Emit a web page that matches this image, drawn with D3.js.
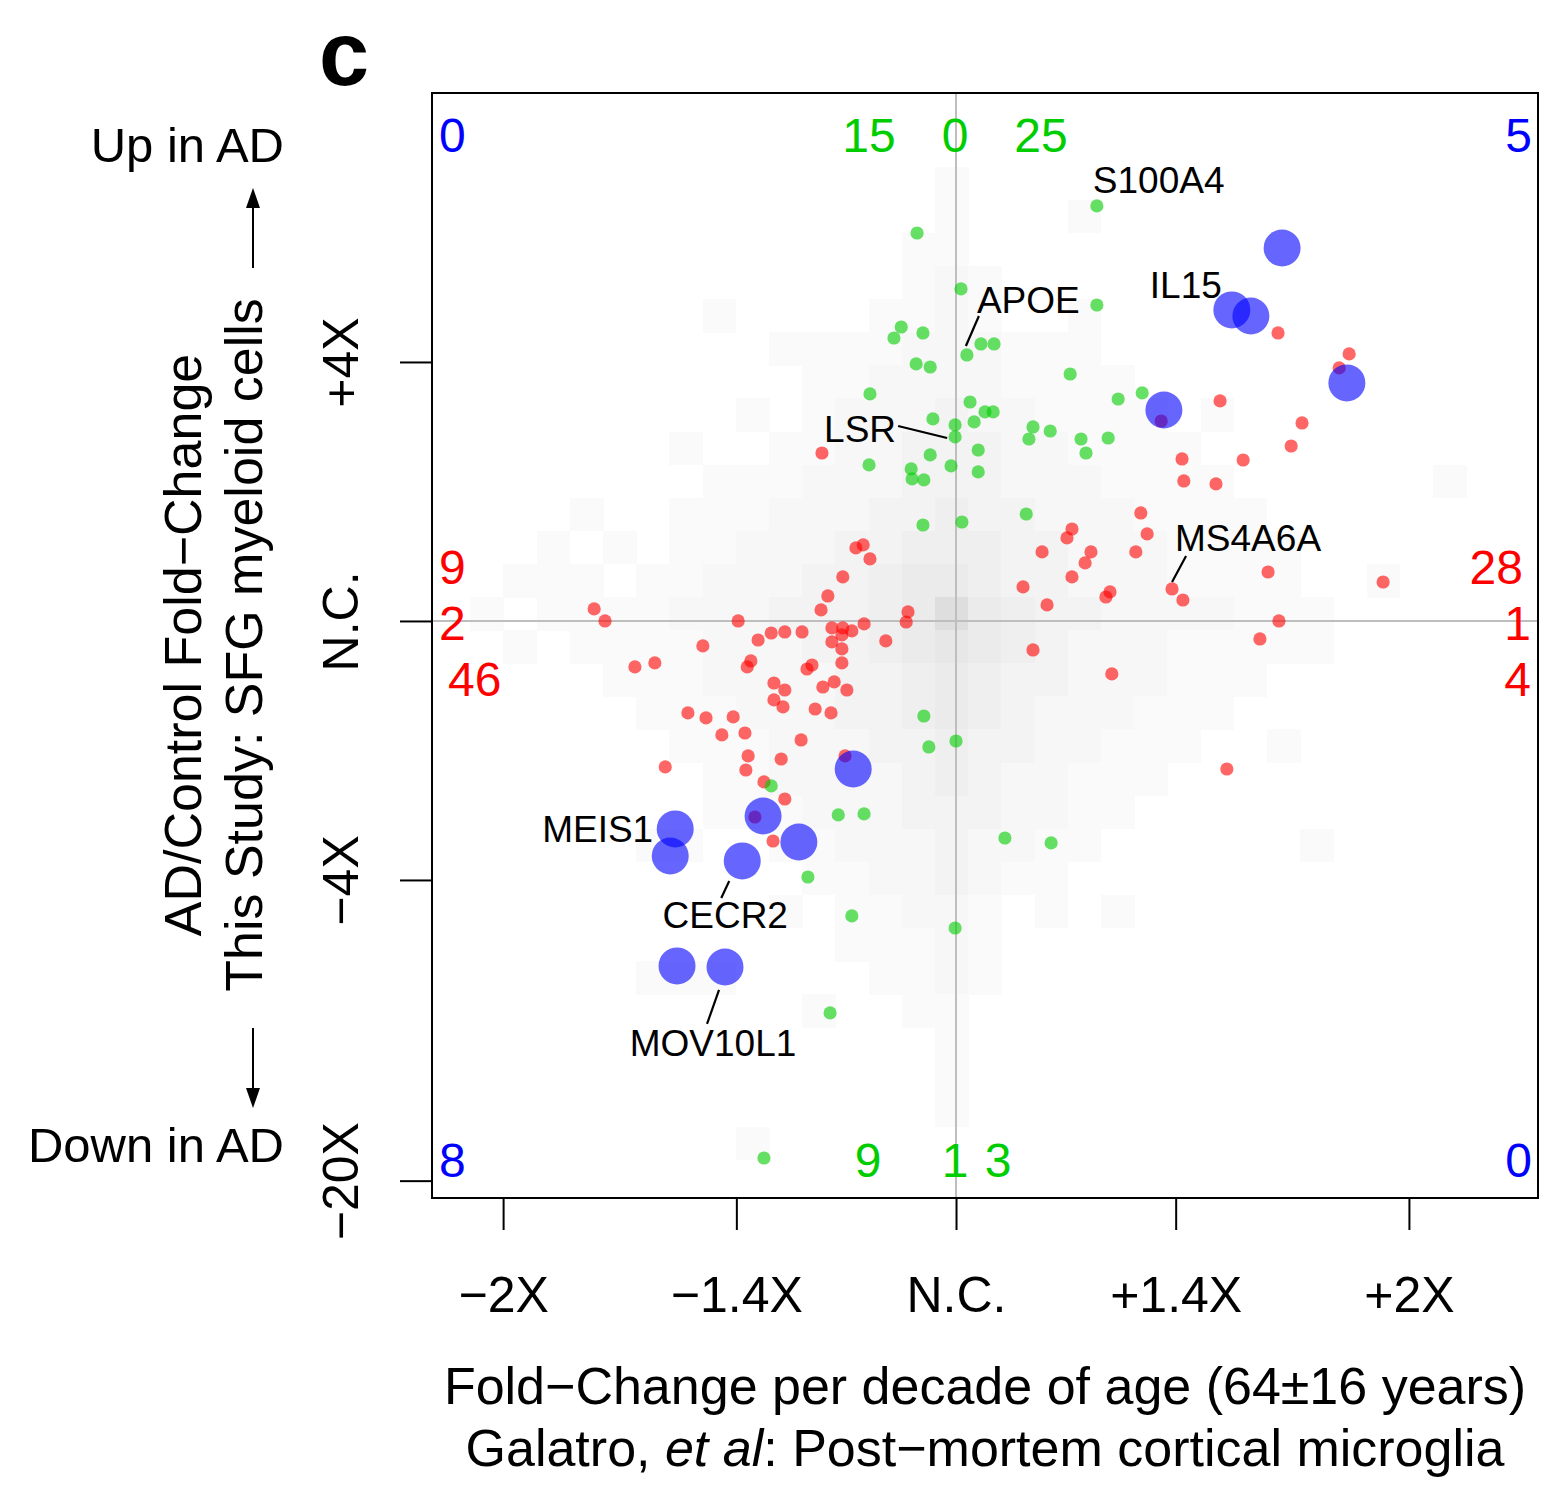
<!DOCTYPE html>
<html><head><meta charset="utf-8">
<script src="https://cdn.jsdelivr.net/npm/d3@7"></script>
<style>
body{margin:0;background:#fff;}
svg text{font-family:"Liberation Sans",Arial,Helvetica,sans-serif;}
</style>
</head><body>
<svg id="chart" width="1566" height="1487"></svg>
<script>
// ---------------- DATA (log2 fold-changes) ----------------
// x: fold-change per decade of age (Galatro et al), y: AD/Control fold-change (this study)
const redX = [0.711,0.868,0.846,0.583,0.453,0.764,0.740,0.499,0.634,0.503,0.574,0.408,0.422,0.397,0.256,0.245,0.190,0.298,0.285,0.256,0.148,0.340,0.331,0.201,0.477,0.501,0.689,0.943,0.713,0.671,0.170,0.344,0.598,
-0.296,-0.205,-0.221,-0.190,-0.250,-0.283,-0.298,-0.799,-0.775,-0.481,-0.203,-0.106,-0.110,-0.274,-0.250,-0.230,-0.252,-0.155,-0.274,-0.252,-0.252,-0.340,-0.378,-0.408,-0.437,-0.559,-0.453,-0.461,-0.665,-0.709,-0.318,-0.329,-0.402,-0.378,-0.402,-0.382,-0.269,-0.294,-0.241,-0.311,-0.276,-0.592,-0.552,-0.492,-0.517,-0.466,-0.342,-0.459,-0.386,-0.464,-0.642,-0.245,-0.424,-0.378,-0.444,-0.404];
const redY = [2.224,2.062,1.954,1.699,1.544,1.529,1.351,1.251,1.243,1.081,1.058,0.834,0.672,0.533,0.710,0.641,0.533,0.533,0.448,0.340,0.263,0.224,0.185,0.124,0.247,0.162,0.378,0.301,0.000,-0.139,-0.224,-0.409,-1.143,
1.297,0.587,0.564,0.479,0.340,0.193,0.085,0.093,0.000,0.000,-0.023,0.070,-0.008,-0.054,-0.054,-0.077,-0.108,-0.154,-0.162,-0.216,-0.324,-0.085,-0.085,-0.093,-0.147,-0.193,-0.309,-0.355,-0.324,-0.355,-0.340,-0.371,-0.479,-0.533,-0.610,-0.664,-0.471,-0.510,-0.533,-0.680,-0.710,-0.710,-0.749,-0.741,-0.880,-0.865,-0.919,-1.042,-1.066,-1.151,-1.127,-1.042,-1.243,-1.375,-1.514,-1.699];

const greenX = [0.311,-0.086,0.011,0.311,-0.121,-0.137,-0.073,0.024,0.055,0.084,-0.088,-0.057,0.252,-0.190,0.358,0.411,0.031,-0.051,-0.002,0.040,0.064,0.082,-0.002,0.170,0.208,0.161,0.276,0.336,0.287,0.049,-0.057,-0.192,-0.099,-0.097,-0.071,-0.011,0.049,0.155,-0.073,0.013,-0.071,-0.060,0.000,-0.408,-0.260,-0.203,0.108,0.210,-0.327,-0.230,-0.002,-0.278,-0.424];
const greenY = [3.205,2.996,2.564,2.440,2.270,2.185,2.224,2.054,2.139,2.139,1.985,1.961,1.907,1.753,1.714,1.761,1.691,1.560,1.514,1.537,1.614,1.614,1.421,1.498,1.467,1.405,1.405,1.413,1.297,1.320,1.282,1.205,1.174,1.097,1.089,1.197,1.151,0.826,0.741,0.764,-0.734,-0.973,-0.927,-1.274,-1.498,-1.490,-1.676,-1.714,-1.977,-2.278,-2.371,-3.027,-4.147];

const blueX = [0.720,0.609,0.651,0.863,0.459,-0.227,-0.620,-0.631,-0.426,-0.347,-0.472,-0.616,-0.510];
const blueY = [2.880,2.402,2.355,1.838,1.629,-1.143,-1.606,-1.815,-1.506,-1.707,-1.853,-2.664,-2.672];

// labelled genes: name, series, index into that series
const labelGenes  = ["S100A4","APOE","LSR","MS4A6A","IL15","MEIS1","CECR2","MOV10L1"];
const labelSeries = ["green","green","green","red","blue","blue","blue","blue"];
const labelIndex  = [0,7,22,24,1,6,10,12];

// quadrant / margin counts
const countLabels = ["0","15","0","25","5","9","2","46","28","1","4","8","9","1","3","0"];
const countSeries = ["blue","green","green","green","blue","red","red","red","red","red","red","blue","green","green","green","blue"];

// axis ticks (log2 units) and labels
const xTickVals   = [-1,-0.485,0,0.485,1];
const xTickLabels = ["\u22122X","\u22121.4X","N.C.","+1.4X","+2X"];
const yTickVals   = [2,0,-2,-4.322];
const yTickLabels = ["+4X","N.C.","\u22124X","\u221220X"];

// background 2D histogram of all genes (grey level 0-8 per bin), rows top->bottom
const densityRows = [
"00000 00000 00000 00000 00000 00000 00000",
"00000 00000 00000 00000 00000 00000 00000",
"00000 00000 00000 00000 00000 00000 00000",
"00000 00000 00000 01000 00000 00000 00000",
"00000 00000 00000 01000 10000 00000 00000",
"00000 00000 00000 11000 00000 00000 00000",
"00000 00000 00000 12100 00000 00000 00000",
"00000 00001 00001 12100 10000 00000 00000",
"00000 00000 01111 22211 10000 00000 00000",
"00000 00000 00112 22211 11000 00000 00000",
"00000 00000 10122 23221 11101 00000 00000",
"00000 00010 01122 33322 11110 00000 00000",
"00000 00001 11222 33322 21111 00000 01000",
"00000 10011 12223 34332 22111 10000 00000",
"00001 01011 22233 44433 22211 11000 00000",
"00011 10112 22334 55433 22211 11001 00000",
"00101 11122 23334 58543 32222 11100 00000",
"00010 11112 22334 56543 22211 11100 00000",
"00000 01112 22233 45433 22211 10000 00000",
"00000 00111 22233 45432 22111 00000 00000",
"00000 00011 12223 34332 21110 01000 00000",
"00000 00001 12222 34322 11100 00000 00000",
"00000 00001 11222 33322 11000 00000 00000",
"00000 00110 01122 23221 10000 00100 00000",
"00000 00000 00112 23211 00000 00000 00000",
"00000 00000 01011 22101 01000 00000 00000",
"00000 00000 00011 12100 00000 00000 00000",
"00000 00111 00001 12100 00000 00000 00000",
"00000 00000 00100 11000 00000 00000 00000",
"00000 00000 00000 01000 00000 00000 00000",
"00000 00000 00000 01000 00000 00000 00000",
"00000 00000 00000 01000 00000 00000 00000",
"00000 00000 10000 00000 00000 00000 00000",
"00000 00000 00000 00000 00000 00000 00000",
"00000 00000 00000 00000 00000 00000 00000"
];
// histogram binning (log2 units)
const bin = {x0:-0.0464, w:0.0733, y0:0.185, h:0.2556, centerCol:16, centerRow:16};

// ---------------- LAYOUT / STYLE ----------------
const plot = {left:432, top:93, right:1538, bottom:1198};
const colors = {
  red:"rgba(255,0,0,0.6)", green:"rgba(0,205,0,0.6)", blue:"rgba(0,0,255,0.6)",
  redText:"#FF0000", greenText:"#00CD00", blueText:"#0000FF"
};
const radius = {red:6.6, green:6.6, blue:18.5};
const greyLevels = [255,250,247,243,239,235,231,227,222];

// label offsets (px from point): text anchor, dx, dy, leader line segment
const labelLayout = {
  S100A4:{anchor:"start", dx:-4, dy:-13, line:null},
  APOE:{anchor:"start", dx:10, dy:-42, line:[-1,-9,12,-39]},
  LSR:{anchor:"end", dx:-59, dy:5, line:[-8,1,-57,-11]},
  MS4A6A:{anchor:"start", dx:3, dy:-38, line:[0,-7,14,-33]},
  IL15:{anchor:"end", dx:-10, dy:-12, line:null},
  MEIS1:{anchor:"end", dx:-22, dy:13, line:null},
  CECR2:{anchor:"middle", dx:-17, dy:67, line:[-13,20,-21,37]},
  MOV10L1:{anchor:"middle", dx:-12, dy:89, line:[-6,23,-18,57]}
};
const countLayout = [
  ["start",439,152],["middle",869,152],["middle",955,152],["middle",1041,152],["end",1532,152],
  ["start",439,584],["start",439,640],["start",448,696],
  ["end",1523,584],["end",1531,640],["end",1531,696],
  ["start",439,1177],["middle",868,1177],["middle",955,1177],["middle",998,1177],["end",1532,1177]
];

// ---------------- DRAW ----------------
const svg = d3.select("#chart");
const x = d3.scaleLinear().domain([-1.157, 1.285]).range([plot.left, plot.right]);
const y = d3.scaleLinear().domain([-4.456, 4.077]).range([plot.bottom, plot.top]);

svg.append("rect").attr("width",1566).attr("height",1487).attr("fill","#fff");
svg.append("defs").append("clipPath").attr("id","clip").append("rect")
  .attr("x",plot.left).attr("y",plot.top)
  .attr("width",plot.right-plot.left).attr("height",plot.bottom-plot.top);

const inner = svg.append("g").attr("clip-path","url(#clip)");

// background histogram
const cells = [];
densityRows.forEach((row,q)=>{
  row.replace(/ /g,"").split("").forEach((ch,p)=>{
    const L = +ch;
    if(!L) return;
    const xl = bin.x0 + (p-bin.centerCol)*bin.w;
    const yt = bin.y0 - (q-bin.centerRow)*bin.h;
    cells.push({xl, xr:xl+bin.w, yt, yb:yt-bin.h, L});
  });
});
inner.append("g").attr("shape-rendering","crispEdges").selectAll("rect").data(cells).join("rect")
  .attr("x",d=>x(d.xl)).attr("y",d=>y(d.yt))
  .attr("width",d=>x(d.xr)-x(d.xl)+0.5).attr("height",d=>y(d.yb)-y(d.yt)+0.5)
  .attr("fill",d=>{const v=greyLevels[d.L];return `rgb(${v},${v},${v})`;});

// reference lines
inner.append("line").attr("x1",x(0)).attr("x2",x(0)).attr("y1",plot.top).attr("y2",plot.bottom)
  .attr("stroke","#bebebe").attr("stroke-width",2);
inner.append("line").attr("x1",plot.left).attr("x2",plot.right).attr("y1",y(0)).attr("y2",y(0))
  .attr("stroke","#bebebe").attr("stroke-width",2);

// points
const series = {
  red: redX.map((v,i)=>({x:v, y:redY[i]})),
  green: greenX.map((v,i)=>({x:v, y:greenY[i]})),
  blue: blueX.map((v,i)=>({x:v, y:blueY[i]}))
};
["red","green","blue"].forEach(s=>{
  inner.append("g").selectAll("circle").data(series[s]).join("circle")
    .attr("cx",d=>x(d.x)).attr("cy",d=>y(d.y)).attr("r",radius[s]).attr("fill",colors[s]);
});

// gene labels
labelGenes.forEach((gname,i)=>{
  const pt = series[labelSeries[i]][labelIndex[i]];
  const px = x(pt.x), py = y(pt.y);
  const L = labelLayout[gname];
  if(L.line){
    svg.append("line").attr("x1",px+L.line[0]).attr("y1",py+L.line[1])
      .attr("x2",px+L.line[2]).attr("y2",py+L.line[3]).attr("stroke","#000").attr("stroke-width",2.2);
  }
  svg.append("text").attr("x",px+L.dx).attr("y",py+L.dy).attr("text-anchor",L.anchor)
    .attr("font-size",37).attr("fill","#000").text(gname);
});

// counts
countLabels.forEach((t,i)=>{
  const [a,cx,cy] = countLayout[i];
  svg.append("text").attr("x",cx).attr("y",cy).attr("text-anchor",a).attr("font-size",48)
    .attr("fill",colors[countSeries[i]+"Text"]).text(t);
});

// box
svg.append("rect").attr("x",plot.left).attr("y",plot.top)
  .attr("width",plot.right-plot.left).attr("height",plot.bottom-plot.top)
  .attr("fill","none").attr("stroke","#000").attr("stroke-width",2);

// x axis
const gx = svg.append("g").attr("transform",`translate(0,${plot.bottom})`)
  .call(d3.axisBottom(x).tickValues(xTickVals).tickFormat((d,i)=>xTickLabels[i]).tickSize(32).tickSizeOuter(0));
gx.attr("font-family",null).attr("font-size",null);
gx.select(".domain").remove();
gx.selectAll(".tick line").attr("stroke","#000").attr("stroke-width",2);
gx.selectAll(".tick text").attr("y",114).attr("dy",0).attr("font-size",50).attr("fill","#000");

// y axis
const gy = svg.append("g").attr("transform",`translate(${plot.left},0)`)
  .call(d3.axisLeft(y).tickValues(yTickVals).tickFormat((d,i)=>yTickLabels[i]).tickSize(32).tickSizeOuter(0));
gy.attr("font-family",null).attr("font-size",null);
gy.select(".domain").remove();
gy.selectAll(".tick line").attr("stroke","#000").attr("stroke-width",2);
gy.selectAll(".tick text").attr("x",null).attr("dy",0).attr("text-anchor","middle")
  .attr("transform","translate(-74,0) rotate(-90)").attr("font-size",50).attr("fill","#000");

// axis titles
svg.append("text").attr("x",985).attr("y",1404).attr("text-anchor","middle").attr("font-size",52)
  .text("Fold\u2212Change per decade of age (64\u00b116 years)");
const t2 = svg.append("text").attr("x",985).attr("y",1466).attr("text-anchor","middle").attr("font-size",52);
t2.append("tspan").text("Galatro, ");
t2.append("tspan").attr("font-style","italic").text("et al");
t2.append("tspan").text(": Post\u2212mortem cortical microglia");

svg.append("text").attr("transform","translate(201,645) rotate(-90)").attr("text-anchor","middle")
  .attr("font-size",52).text("AD/Control Fold\u2212Change");
svg.append("text").attr("transform","translate(262,645) rotate(-90)").attr("text-anchor","middle")
  .attr("font-size",52).text("This Study: SFG myeloid cells");

svg.append("text").attr("x",284).attr("y",162).attr("text-anchor","end").attr("font-size",49).text("Up in AD");
svg.append("text").attr("x",284).attr("y",1162).attr("text-anchor","end").attr("font-size",49).text("Down in AD");

// arrows
svg.append("line").attr("x1",253).attr("x2",253).attr("y1",268).attr("y2",200).attr("stroke","#000").attr("stroke-width",2);
svg.append("path").attr("d","M253,188 L246,208 L260,208 Z").attr("fill","#000");
svg.append("line").attr("x1",253).attr("x2",253).attr("y1",1028).attr("y2",1096).attr("stroke","#000").attr("stroke-width",2);
svg.append("path").attr("d","M253,1108 L246,1088 L260,1088 Z").attr("fill","#000");

// panel letter
svg.append("text").attr("x",344).attr("y",85).attr("text-anchor","middle").attr("font-size",90)
  .attr("font-weight","bold").text("c");
</script>
</body></html>
